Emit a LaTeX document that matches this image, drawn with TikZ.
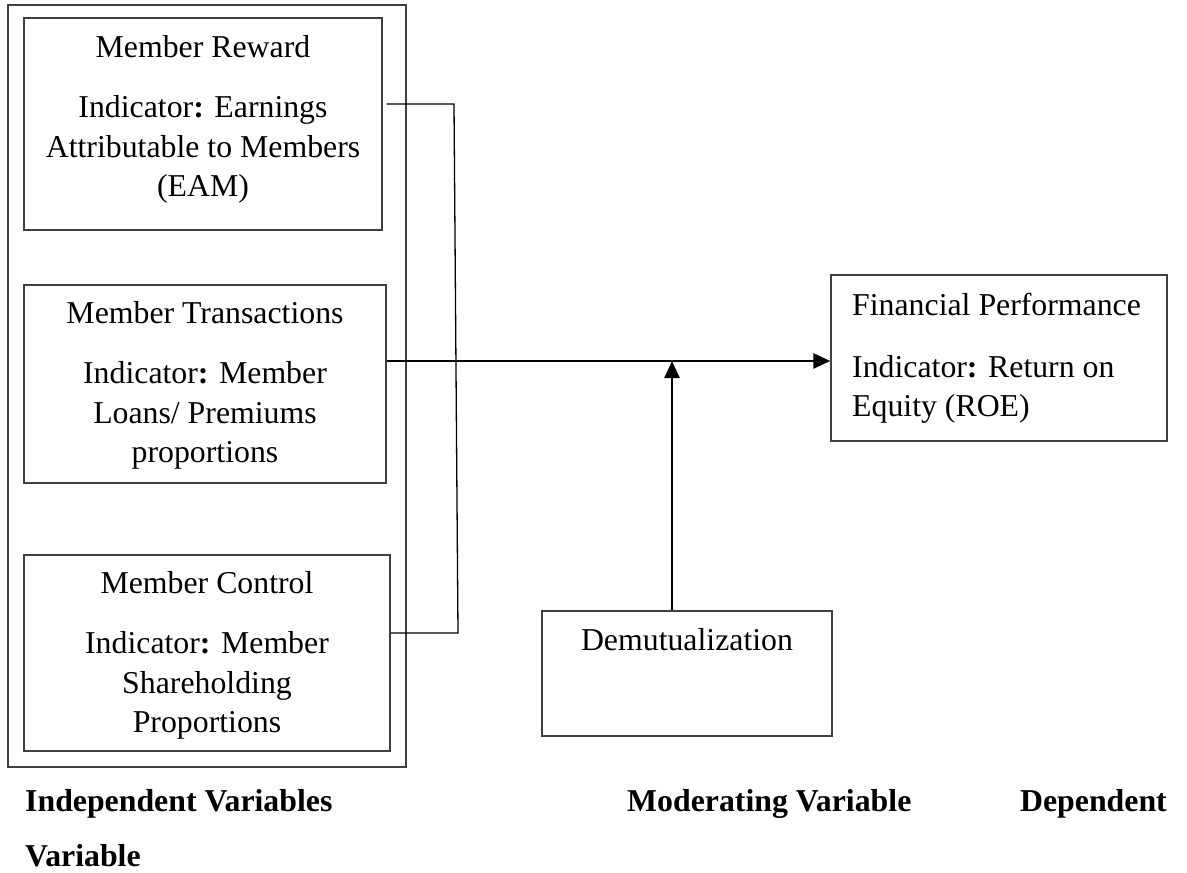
\documentclass[tikz,border=0pt]{standalone}
\usepackage{fontspec}
\setmainfont{Liberation Serif}
\usetikzlibrary{arrows.meta}
\begin{document}
\begin{tikzpicture}[x=1pt,y=-1pt,
  box/.style={draw=black!75,line width=1.3pt,rectangle,inner sep=0pt},
  txt/.style={inner sep=0pt,align=center,font=\fontsize{31.8pt}{39.5pt}\selectfont},
  ltxt/.style={inner sep=0pt,align=left,font=\fontsize{31.8pt}{38.5pt}\selectfont},
  btxt/.style={inner sep=0pt,font=\fontsize{31.8pt}{39.5pt}\selectfont\bfseries},
  thin/.style={draw=black,line width=1.3pt},
  flow/.style={draw=black,line width=2.6pt},
  tip/.style={-{Triangle[length=17pt,width=15pt]}}]
\useasboundingbox (0,0) rectangle (1187,873);
\fill[white] (0,0) rectangle (1187,873);

% boxes
\node[box,minimum width=398pt,minimum height=762pt] (outer) at (207,386) {};
\node[box,minimum width=358pt,minimum height=212pt] (r1) at (203,124) {};
\node[box,minimum width=362pt,minimum height=198pt] (r2) at (205,384) {};
\node[box,minimum width=366pt,minimum height=196pt] (r3) at (207,653) {};
\node[box,minimum width=336pt,minimum height=166pt] (fp) at (999,358) {};
\node[box,minimum width=290pt,minimum height=125pt] (dm) at (687,673.5) {};

% texts
\node[txt,anchor=north] (t1) at (203,35) {Member Reward\\[21pt]Indicator\textbf{:} Earnings\\Attributable to Members\\(EAM)};
\node[txt,anchor=north] (t2) at (205,301) {Member Transactions\\[21pt]Indicator\textbf{:} Member\\Loans/ Premiums\\proportions};
\node[txt,anchor=north] (t3) at (207,571) {Member Control\\[21pt]Indicator\textbf{:} Member\\Shareholding\\Proportions};
\node[ltxt,anchor=north west] (t4) at (852,293) {Financial Performance\\[23.5pt]Indicator\textbf{:} Return on\\Equity (ROE)};
\node[txt,anchor=north] (t5) at (687,628) {Demutualization};

\node[btxt,anchor=base west] (l1) at (25,811) {Independent Variables};
\node[btxt,anchor=base west] (l2) at (627,811) {Moderating Variable};
\node[btxt,anchor=base east] (l3) at (1167,811) {Dependent};
\node[btxt,anchor=base west] (l4) at (25,866) {Variable};

% connectors
\coordinate (b1) at (454,104);
\coordinate (b2) at (458,633);
\coordinate (j) at (672,361);
\draw[thin] ([xshift=4pt]r1.east |- b1) -- (b1) -- (b2) -- (r3.east |- b2);
\draw[flow,tip] (r2.east |- j) -- (fp.west |- j);
\draw[flow,tip] (dm.north -| j) -- (j);
\end{tikzpicture}
\end{document}
